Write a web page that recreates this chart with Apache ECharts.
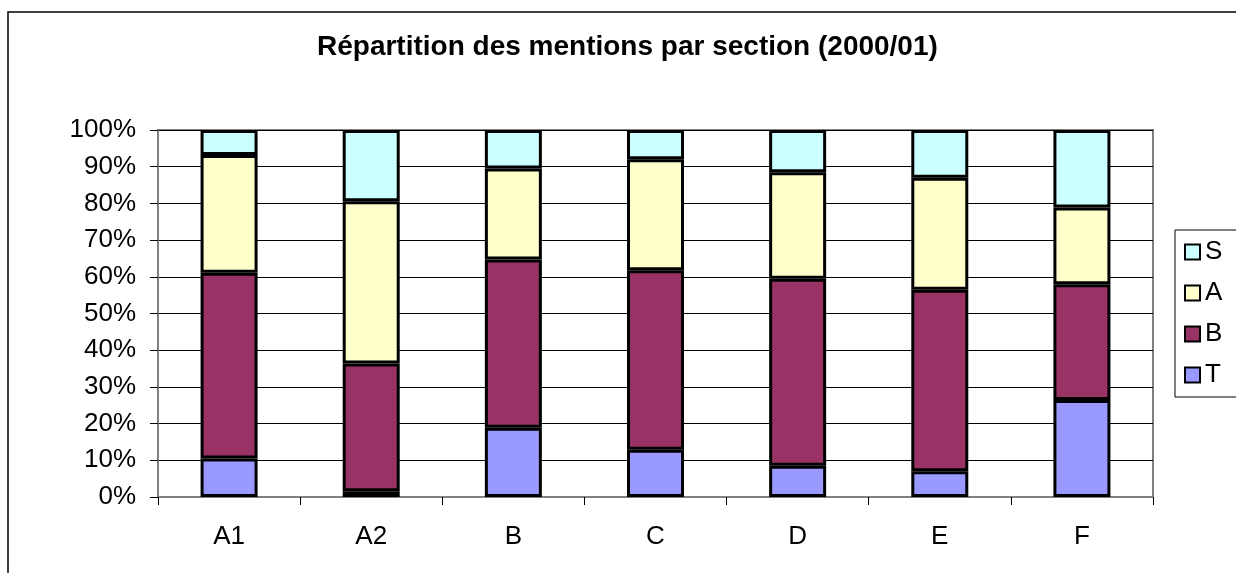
<!DOCTYPE html>
<html>
<head>
<meta charset="utf-8">
<script src="https://cdn.jsdelivr.net/npm/echarts@6/dist/echarts.min.js"></script>
<style>
  html, body { margin: 0; padding: 0; background: #fff; }
  #chart { width: 1236px; height: 573px; }
</style>
</head>
<body>
<div id="chart"></div>
<script>
const sections = ['A1', 'A2', 'B', 'C', 'D', 'E', 'F'];
const valuesT = [10.5, 1.6, 18.9, 12.9, 8.5, 7.0, 26.4];
const valuesB = [50.6, 34.8, 45.8, 48.9, 51.0, 49.5, 31.6];
const valuesA = [32.1, 44.2, 24.8, 30.2, 29.0, 30.5, 20.9];
const valuesS = [6.8, 19.4, 10.5, 8.0, 11.5, 13.0, 21.1];

const font = '"Liberation Sans", Arial, sans-serif';

const chart = echarts.init(document.getElementById('chart'));

function barSeries(name, data, color) {
  return {
    name,
    type: 'bar',
    stack: 'total',
    data,
    barWidth: 57,
    itemStyle: { color, borderColor: '#000', borderWidth: 3 }
  };
}

chart.setOption({
  backgroundColor: '#fff',
  animation: false,
  graphic: [{
    type: 'rect',
    shape: { x: 8, y: 12, width: 1400, height: 700 },
    style: { fill: 'none', stroke: '#000', lineWidth: 1.5 },
    z: -1
  }],
  title: {
    text: 'Répartition des mentions par section (2000/01)',
    left: 317,
    top: 33,
    padding: 0,
    textStyle: { fontFamily: font, fontSize: 28, fontWeight: 'bold', color: '#000' }
  },
  legend: {
    orient: 'vertical',
    left: 1175,
    top: 230,
    data: ['S', 'A', 'B', 'T'],
    itemWidth: 15,
    itemHeight: 15,
    itemGap: 15,
    padding: [9, 60, 9, 9],
    borderColor: '#000',
    borderWidth: 1,
    icon: 'rect',
    itemStyle: { borderColor: '#000', borderWidth: 2 },
    textStyle: { fontFamily: font, fontSize: 26, color: '#000' }
  },
  grid: {
    left: 158,
    right: 83,
    top: 130,
    bottom: 76,
    show: true,
    borderColor: '#808080',
    borderWidth: 2
  },
  xAxis: {
    type: 'category',
    data: sections,
    axisLine: { lineStyle: { color: '#808080', width: 2 } },
    axisTick: { show: true, length: 8, lineStyle: { color: '#000' } },
    axisLabel: { margin: 27, fontFamily: font, fontSize: 26, color: '#000' }
  },
  yAxis: {
    type: 'value',
    min: 0,
    max: 100,
    interval: 10,
    axisLine: { show: true, lineStyle: { color: '#808080', width: 2 } },
    axisTick: { show: true, length: 8, lineStyle: { color: '#000' } },
    axisLabel: { margin: 22, formatter: '{value}%', fontFamily: font, fontSize: 26, color: '#000' },
    splitLine: { lineStyle: { color: '#000', width: 1 } }
  },
  series: [
    barSeries('T', valuesT, '#9999FF'),
    barSeries('B', valuesB, '#993366'),
    barSeries('A', valuesA, '#FFFFCC'),
    barSeries('S', valuesS, '#CCFFFF')
  ]
});
</script>
</body>
</html>
